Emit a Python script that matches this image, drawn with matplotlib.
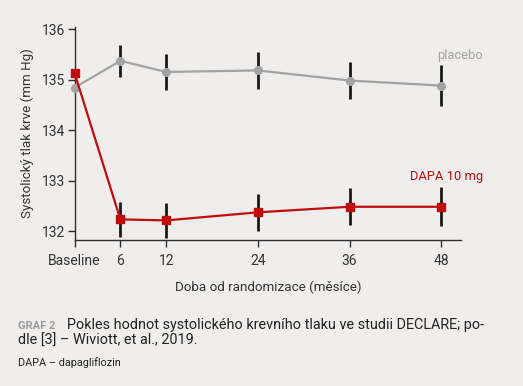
import matplotlib
matplotlib.use("Agg")
import matplotlib.pyplot as plt

months = [0, 6, 12, 24, 36, 48]
tick_labels = ["Baseline", "6", "12", "24", "36", "48"]
placebo = [134.84, 135.37, 135.15, 135.18, 134.98, 134.88]
placebo_err = [0.0, 0.31, 0.35, 0.37, 0.37, 0.41]
dapa = [135.13, 132.23, 132.21, 132.37, 132.48, 132.48]
dapa_err = [0.0, 0.35, 0.35, 0.37, 0.37, 0.39]
yticks = [132, 133, 134, 135, 136]

BG = "#efeeec"
RED = "#c00d0d"
GRAY = "#a3a3a3"
DARK = "#2e2e2e"

plt.rcParams['font.family'] = ['Roboto', 'DejaVu Sans']

fig = plt.figure(figsize=(5.23, 3.86), dpi=100, facecolor=BG)
ax = fig.add_axes([0.1425, 0.378, 0.739, 0.552])
ax.set_facecolor(BG)

err_months = months[1:]
ax.errorbar(err_months, placebo[1:], yerr=placebo_err[1:], fmt='none',
            ecolor="#1a1a1a", elinewidth=2.0, capsize=0, zorder=2)
ax.errorbar(err_months, dapa[1:], yerr=dapa_err[1:], fmt='none',
            ecolor="#1a1a1a", elinewidth=2.0, capsize=0, zorder=2)
ax.plot(months, placebo, color=GRAY, lw=1.6, marker='o', ms=5.5,
        mfc=GRAY, mec=GRAY, zorder=3, clip_on=False)
ax.plot(months, dapa, color=RED, lw=1.6, marker='s', ms=6,
        mfc=RED, mec=RED, zorder=4, clip_on=False)

ax.set_xlim(0, 50.6)
ax.set_ylim(131.82, 136.04)
ax.set_xticks(months)
ax.set_xticklabels(tick_labels)
ax.set_yticks(yticks)
for s in ['top', 'right']:
    ax.spines[s].set_visible(False)
for s in ['left', 'bottom']:
    ax.spines[s].set_color(DARK)
    ax.spines[s].set_linewidth(1.0)
ax.tick_params(axis='both', colors=DARK, labelcolor="#333333",
               labelsize=10, length=5, width=1.0, pad=2)
ax.tick_params(axis='x', pad=5)

ax.set_ylabel("Systolický tlak krve (mm Hg)", fontsize=9.6, color="#333333", labelpad=5)
ax.set_xlabel("Doba od randomizace (měsíce)", fontsize=9.6, color="#333333", labelpad=9)

fig.text(483/523, 1 - 56/386, "placebo", color=GRAY, fontsize=9.3,
         ha='right', va='center')
fig.text(483/523, 1 - 176/386, "DAPA 10 mg", color=RED, fontsize=9.3,
         ha='right', va='center')

fig.text(18/523, 1 - 329/386, "GRAF 2", color="#9a9a9a", fontsize=8,
         fontweight='bold', ha='left', va='baseline')
fig.text(67/523, 1 - 329/386,
         "Pokles hodnot systolického krevního tlaku ve studii DECLARE; po-",
         color="#222222", fontsize=10.4, ha='left', va='baseline')
fig.text(18/523, 1 - 345/386, "dle [3] – Wiviott, et al., 2019.",
         color="#222222", fontsize=10.4, ha='left', va='baseline')
fig.text(18/523, 1 - 366/386, "DAPA – dapagliflozin",
         color="#222222", fontsize=7.8, ha='left', va='baseline')

fig.savefig("out.png", dpi=100, facecolor=BG)
